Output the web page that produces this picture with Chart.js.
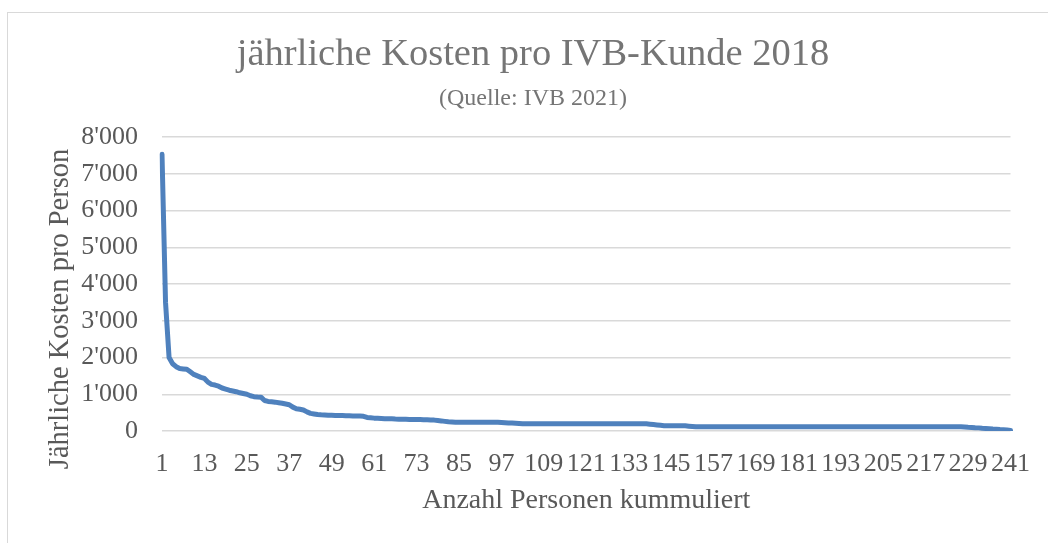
<!DOCTYPE html>
<html>
<head>
<meta charset="utf-8">
<script src="https://cdn.jsdelivr.net/npm/chart.js@4.4.1/dist/chart.umd.min.js"></script>
<style>
  html, body { margin: 0; padding: 0; background: #ffffff; }
  #wrap { position: relative; width: 1048px; height: 543px; }
</style>
</head>
<body>
<div id="wrap"><canvas id="c" width="1048" height="543"></canvas></div>
<script>
// ---- data ----
const titleText = "jährliche Kosten pro IVB-Kunde 2018";
const subtitleText = "(Quelle: IVB 2021)";
const xAxisTitle = "Anzahl Personen kummuliert";
const yAxisTitle = "Jährliche Kosten pro Person";
const seriesName = "Kosten";

const categories = Array.from({length: 241}, (_, i) => String(i + 1));

const costs = [
  7530, 3500, 2000, 1830, 1750, 1700, 1690, 1680, 1610, 1540,
  1500, 1460, 1430, 1330, 1270, 1250, 1220, 1170, 1140, 1110,
  1090, 1070, 1040, 1020, 1000, 960, 935, 925, 920, 830,
  805, 795, 785, 770, 755, 735, 715, 650, 605, 590,
  570, 520, 480, 465, 450, 440, 435, 430, 428, 425,
  422, 420, 415, 413, 410, 408, 405, 400, 370, 360,
  350, 345, 340, 336, 333, 330, 325, 323, 320, 318,
  316, 314, 312, 310, 306, 303, 300, 296, 285, 275,
  262, 250, 245, 240, 240, 240, 240, 240, 240, 240,
  240, 240, 240, 240, 240, 235, 230, 225, 220, 215,
  210, 205, 200, 200, 200, 200, 200, 200, 200, 200,
  200, 200, 200, 200, 200, 200, 200, 200, 200, 200,
  200, 200, 200, 200, 200, 200, 200, 200, 200, 200,
  200, 200, 200, 200, 200, 200, 200, 195, 185, 175,
  165, 155, 145, 140, 140, 140, 140, 140, 140, 130,
  122, 115, 115, 115, 115, 115, 115, 115, 115, 115,
  115, 115, 115, 115, 115, 115, 115, 115, 115, 115,
  115, 115, 115, 115, 115, 115, 115, 115, 115, 115,
  115, 115, 115, 115, 115, 115, 115, 115, 115, 115,
  115, 115, 115, 115, 115, 115, 115, 115, 115, 115,
  115, 115, 115, 115, 115, 115, 115, 115, 115, 115,
  115, 115, 115, 115, 115, 115, 115, 115, 115, 115,
  115, 115, 115, 115, 115, 115, 115, 110, 102, 98,
  90, 85, 76, 70, 63, 55, 50, 40, 33, 25,
  12
];

const yTickValues = [0, 1000, 2000, 3000, 4000, 5000, 6000, 7000, 8000];
const yTickLabels = ["0", "1'000", "2'000", "3'000", "4'000", "5'000", "6'000", "7'000", "8'000"];
const xLabelStep = 12;

// ---- chart ----
const serif = "'Liberation Serif', 'Times New Roman', serif";
const textColor = "#595959";

const borderPlugin = {
  id: 'outerBorder',
  beforeDraw(chart) {
    const ctx = chart.ctx;
    ctx.save();
    ctx.strokeStyle = '#d9d9d9';
    ctx.lineWidth = 1;
    ctx.strokeRect(7.5, 12.5, 1200, 700);
    ctx.restore();
  }
};

new Chart(document.getElementById('c'), {
  type: 'line',
  data: {
    labels: categories,
    datasets: [{
      label: seriesName,
      data: costs,
      borderColor: '#4f81bd',
      backgroundColor: '#4f81bd',
      borderWidth: 5,
      pointRadius: 0,
      tension: 0,
      borderJoinStyle: 'round',
      borderCapStyle: 'round',
      fill: false
    }]
  },
  options: {
    responsive: false,
    animation: false,
    layout: { padding: { left: 53, right: 35, top: 12, bottom: 0 } },
    plugins: {
      legend: { display: false },
      tooltip: { enabled: false },
      title: {
        display: true,
        text: titleText,
        color: '#757575',
        font: { family: serif, size: 38.5, weight: 'normal' },
        padding: { top: 20, bottom: 0 }
      },
      subtitle: {
        display: true,
        text: subtitleText,
        color: '#757575',
        font: { family: serif, size: 24, weight: 'normal' },
        padding: { top: 6, bottom: 24 }
      }
    },
    scales: {
      x: {
        type: 'category',
        offset: false,
        grid: { display: false, drawTicks: false },
        border: { display: false },
        ticks: {
          autoSkip: false,
          maxRotation: 0,
          minRotation: 0,
          padding: 18,
          color: textColor,
          font: { family: serif, size: 26 },
          callback: function(value, index) {
            return (index % xLabelStep === 0) ? categories[index] : '';
          }
        },
        title: {
          display: true,
          text: xAxisTitle,
          color: textColor,
          font: { family: serif, size: 28 },
          padding: { top: 0, bottom: 26 }
        },
        afterFit: function(scale) { scale.height = 543 - 431; }
      },
      y: {
        min: 0,
        max: 8000,
        grid: { color: '#d9d9d9', lineWidth: 1.5, drawTicks: false },
        border: { display: false },
        ticks: {
          stepSize: 1000,
          padding: 24,
          color: textColor,
          font: { family: serif, size: 26 },
          callback: function(value) {
            const i = yTickValues.indexOf(value);
            return i >= 0 ? yTickLabels[i] : '';
          }
        },
        title: {
          display: true,
          text: yAxisTitle + "\u00A0\u00A0\u00A0\u00A0\u00A0\u00A0\u00A0",
          color: textColor,
          font: { family: serif, size: 28.5 },
          padding: { top: -10, bottom: 0 }
        },
        afterFit: function(scale) { scale.width = 162 - 53; }
      }
    }
  },
  plugins: [borderPlugin]
});
</script>
</body>
</html>
